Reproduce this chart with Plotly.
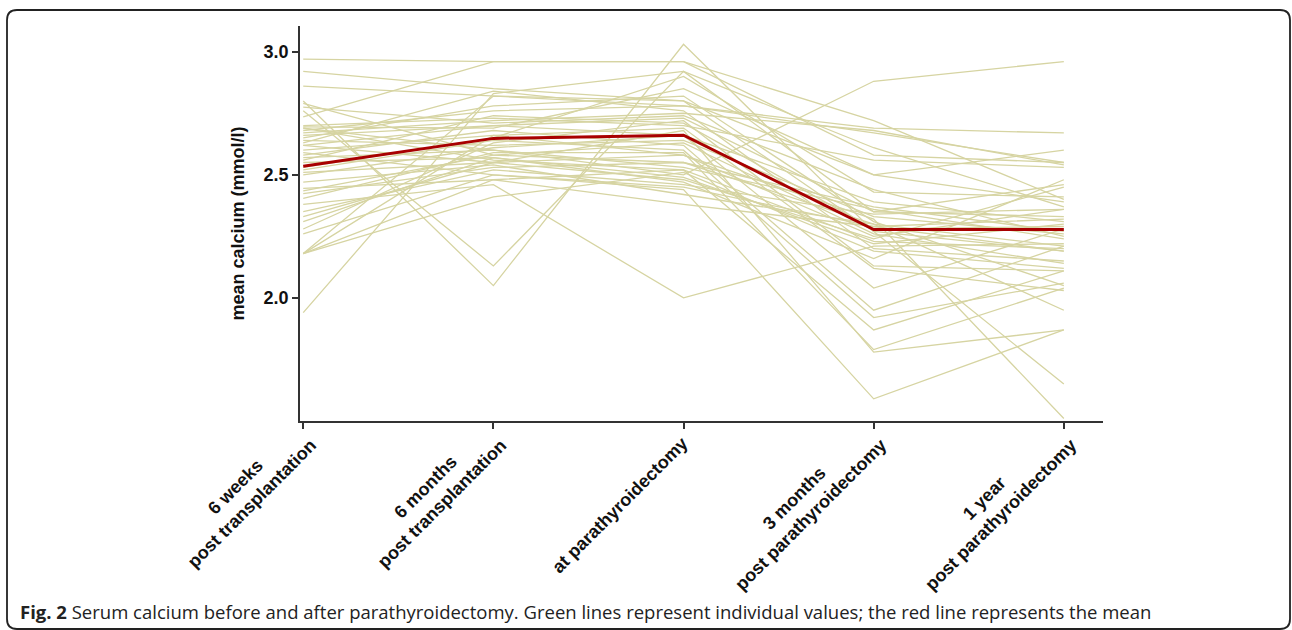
import plotly.graph_objects as go

# ---------------- data ----------------
timepoints = [
    "6 weeks<br>post transplantation",
    "6 months<br>post transplantation",
    "at parathyroidectomy",
    "3 months<br>post parathyroidectomy",
    "1 year<br>post parathyroidectomy",
]

# individual serum calcium values (mmol/l) at the five time points
wk6_post_tx = [2.97, 2.92, 2.86, 2.79, 2.775, 2.76, 2.80, 2.735, 2.70, 2.695,
               2.69, 2.68, 2.67, 2.66, 2.65, 2.64, 2.63, 2.62, 2.60, 2.59,
               2.58, 2.57, 2.56, 2.55, 2.52, 2.51, 2.50, 2.47, 2.445, 2.435,
               2.424, 2.404, 2.38, 2.35, 2.33, 2.31, 2.28, 2.26, 2.18, 2.18,
               2.18, 2.18, 1.94, 2.62, 2.69, 2.53]
mo6_post_tx = [2.96, 2.85, 2.82, 2.58, 2.71, 2.13, 2.05, 2.96, 2.73, 2.69,
               2.60, 2.76, 2.72, 2.70, 2.78, 2.62, 2.84, 2.55, 2.66, 2.50,
               2.68, 2.60, 2.74, 2.57, 2.64, 2.55, 2.61, 2.54, 2.48, 2.58,
               2.53, 2.59, 2.46, 2.52, 2.55, 2.57, 2.63, 2.50, 2.82, 2.66,
               2.48, 2.41, 2.83, 2.70, 2.56, 2.65]
at_ptx = [2.96, 2.80, 2.78, 2.55, 2.74, 2.92, 3.03, 2.96, 2.70, 2.85,
          2.50, 2.78, 2.75, 2.66, 2.82, 2.64, 2.76, 2.58, 2.69, 2.45,
          2.62, 2.53, 2.71, 2.49, 2.60, 2.48, 2.66, 2.42, 2.52, 2.63,
          2.55, 2.59, 2.00, 2.46, 2.68, 2.47, 2.72, 2.44, 2.80, 2.58,
          2.38, 2.51, 2.92, 2.73, 2.52, 2.90]
mo3_post_ptx = [2.58, 2.50, 2.69, 2.30, 2.44, 2.35, 2.27, 2.72, 2.56, 2.50,
                2.88, 2.67, 2.68, 2.39, 2.31, 2.33, 2.20, 2.25, 2.12, 2.29,
                1.95, 2.36, 2.28, 2.22, 1.92, 2.24, 2.04, 2.30, 1.87, 2.26,
                2.37, 1.79, 2.21, 2.34, 1.78, 2.16, 2.13, 1.59, 2.27, 2.32,
                2.29, 2.19, 2.61, 2.35, 2.23, 2.43]
yr1_post_ptx = [2.55, 2.39, 2.67, 2.21, 2.25, 2.33, 2.19, 2.40, 2.53, 2.60,
                2.96, 2.55, 2.54, 2.31, 2.05, 2.26, 2.15, 2.36, 2.03, 2.32,
                2.21, 2.24, 2.29, 2.30, 2.06, 2.45, 2.28, 1.95, 2.11, 2.14,
                2.27, 2.04, 2.22, 2.36, 1.87, 2.48, 2.11, 1.87, 1.65, 1.51,
                2.19, 2.12, 2.37, 2.46, 2.20, 2.41]

mean_values = [2.535, 2.648, 2.661, 2.278, 2.278]

series = [wk6_post_tx, mo6_post_tx, at_ptx, mo3_post_ptx, yr1_post_ptx]

# ---------------- figure ----------------
W, H = 1292, 630
ML, MR, MT, MB = 300, 189, 26, 209
PW, PH = W - ML - MR, H - MT - MB

def px2paper(x, y):
    return (x - ML) / PW, (H - MB - y) / PH

fig = go.Figure()
x_idx = list(range(len(timepoints)))
n_pat = len(wk6_post_tx)
for p in range(n_pat):
    fig.add_trace(go.Scatter(
        x=x_idx, y=[s[p] for s in series], mode="lines",
        line=dict(color="#d6d4a2", width=1.3),
        hoverinfo="skip", showlegend=False))
fig.add_trace(go.Scatter(
    x=x_idx, y=mean_values, mode="lines",
    line=dict(color="#a80000", width=3),
    showlegend=False, name="mean"))

axis_font = dict(family="Liberation Sans, Arial, sans-serif", size=18,
                 color="#111", weight="bold")

# tick labels as centred, rotated annotations anchored at each category
annotations = []
for i, t in enumerate(timepoints):
    two_line = "<br>" in t
    annotations.append(dict(
        x=i, xref="x", y=0, yref="paper", text=t,
        showarrow=False, textangle=-45, align="center",
        xanchor="right", yanchor="top",
        xshift=19 if two_line else 11, yshift=5 if two_line else -9,
        font=axis_font))

cx, cy = px2paper(18, 611)
annotations.append(dict(
    x=cx, y=cy, xref="paper", yref="paper", xanchor="left", yanchor="middle",
    showarrow=False,
    text="<b>Fig. 2</b> Serum calcium before and after parathyroidectomy. Green lines represent individual values; the red line represents the mean",
    font=dict(family="Open Sans, sans-serif", size=18.5, color="#222")))

# rounded frame
x0, y0, x1, y1, r = 7, 10, 1290, 629, 10
def P(x, y):
    a, b = px2paper(x, y)
    return "%.5f,%.5f" % (a, b)
path = ("M " + P(x0 + r, y0) + " L " + P(x1 - r, y0) + " Q " + P(x1, y0) + " " + P(x1, y0 + r) +
        " L " + P(x1, y1 - r) + " Q " + P(x1, y1) + " " + P(x1 - r, y1) +
        " L " + P(x0 + r, y1) + " Q " + P(x0, y1) + " " + P(x0, y1 - r) +
        " L " + P(x0, y0 + r) + " Q " + P(x0, y0) + " " + P(x0 + r, y0) + " Z")

fig.update_layout(
    width=W, height=H,
    margin=dict(l=ML, r=MR, t=MT, b=MB),
    paper_bgcolor="white", plot_bgcolor="white",
    showlegend=False,
    annotations=annotations,
    shapes=[dict(type="path", xref="paper", yref="paper", path=path,
                 line=dict(color="#222", width=1.8), layer="below")],
    xaxis=dict(range=[-0.017, 4.206], tickvals=x_idx, showticklabels=False,
               showgrid=False, zeroline=False, showline=True, linecolor="#333",
               linewidth=1.5, ticks="outside", ticklen=6, tickwidth=1.5,
               tickcolor="#333"),
    yaxis=dict(range=[1.5, 3.1045], tickvals=[2.0, 2.5, 3.0], tickformat=".1f",
               showgrid=False, zeroline=False, showline=True, linecolor="#333",
               linewidth=1.5, ticks="outside", ticklen=6, tickwidth=1.5,
               tickcolor="#333", tickfont=axis_font,
               title=dict(text="mean calcium (mmol/l)", font=axis_font,
                          standoff=14)),
)

fig.write_html("out.html", config={"displayModeBar": False},
               post_script="document.body.style.margin='0';document.body.style.overflow='hidden';")
